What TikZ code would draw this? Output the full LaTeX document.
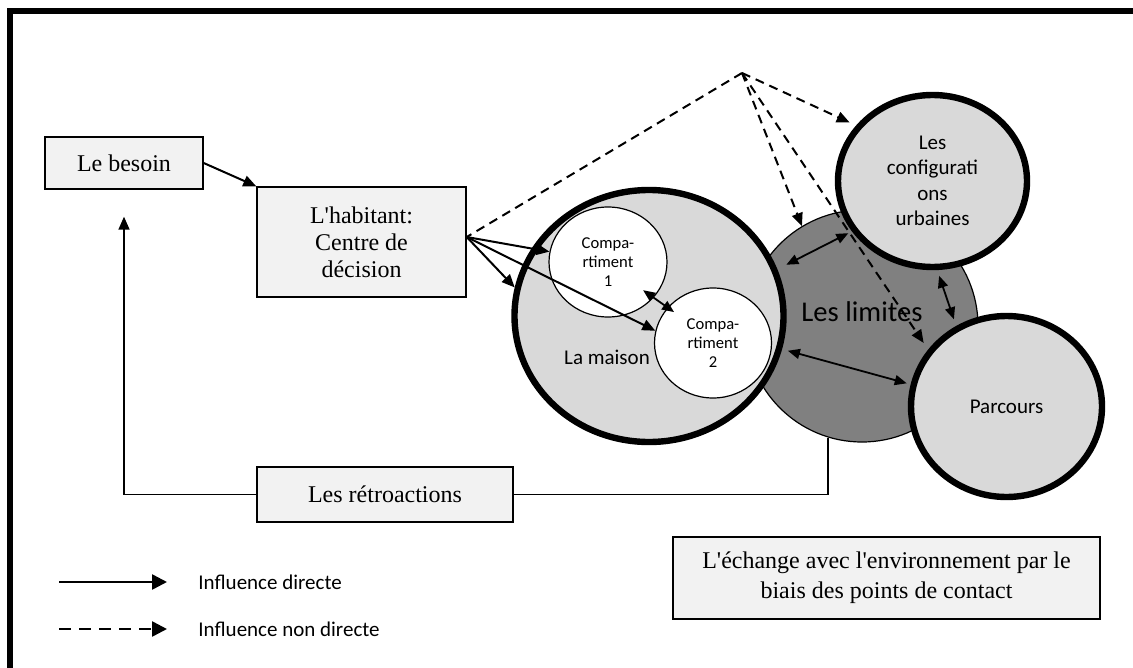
\documentclass[tikz,border=0pt]{standalone}
\usepackage{fontspec}
\setmainfont{Liberation Serif}
\newfontfamily\calibri{Carlito}
\usepackage{tikz}
\usetikzlibrary{arrows.meta, calc, positioning, shapes.geometric}
\definecolor{boxgris}{HTML}{F2F2F2}
\definecolor{clair}{HTML}{D9D9D9}
\definecolor{fonce}{HTML}{808080}

\begin{document}
\begin{tikzpicture}[x=0.5pt, y=-0.5pt,
  box/.style={draw, line width=0.7pt, fill=boxgris, align=center, inner sep=0pt,
              font=\fontsize{12}{13.6}\selectfont},
  zone/.style={draw, ellipse, line width=3.2pt, fill=clair, inner sep=0pt, align=center,
              font=\calibri\fontsize{10.5}{12.7}\selectfont},
  compart/.style={draw, ellipse, line width=0.6pt, fill=white, inner sep=0pt, align=center,
              font=\calibri\fontsize{8.3}{9.5}\selectfont},
  label/.style={font=\calibri\fontsize{10.5}{12.7}\selectfont, inner sep=0pt},
  arrow/.style={-{Triangle[length=6.5pt, width=5.5pt]}, line width=1pt},
  darrow/.style={{Triangle[length=6pt, width=5pt]}-{Triangle[length=6pt, width=5pt]}, line width=0.9pt},
  indirect/.style={arrow, dash pattern=on 4.5pt off 3pt},
  legarrow/.style={-{Triangle[length=7.5pt, width=7.5pt]}, line width=1.3pt},
]

\useasboundingbox (0,0) rectangle (1133,668);

% Cadre
\draw[line width=2.8pt] (10,668) -- (10,11) -- (1133,11);

% Boites
\node[box, minimum width=79pt, minimum height=26pt] (besoin) at (124,163) {Le besoin};
\node[box, minimum width=104.5pt, minimum height=55pt] (habitant) at (361.5,242)
  {L\textquotesingle habitant:\\Centre de\\décision};
\node[box, minimum width=128pt, minimum height=27.5pt] (retro) at (385,494.5) {Les rétroactions};
\node[box, minimum width=213.5pt, minimum height=41pt, font=\fontsize{12}{15}\selectfont] (echange) at (886.5,578)
  {L\textquotesingle échange avec l\textquotesingle environnement par le\\biais des points de contact};

% Cercles
\node[draw, circle, fill=fonce, line width=0.6pt, minimum size=116pt, inner sep=0pt] (limites) at (862,326) {};
\node[zone, minimum width=134.5pt, minimum height=126pt] (maison) at (649,316) {};
\node[compart, minimum width=59pt, minimum height=55pt] (comp1) at (608,262) {Compa-\\rtiment\\1};
\node[compart, minimum width=58.5pt, minimum height=55pt] (comp2) at (713,343) {Compa-\\rtiment\\2};
\node[zone, minimum width=94.5pt, minimum height=86pt] (config) at (932.5,181)
  {Les\\configurati\\ons\\urbaines};
\node[zone, minimum width=95.5pt, minimum height=90.5pt] (parcours) at (1006.5,406.5) {Parcours};

\node[label] (maisonlab) at (607,357) {La maison};
\node[label, font=\calibri\fontsize{14.3}{16}\selectfont] (limlab) at (862,312) {Les limites};

% Influence directe
\draw[arrow] (besoin.east) -- (habitant.north west);
\draw[arrow] ([yshift=2.5pt]habitant.east) -- (comp1.170);
\draw[arrow] ([yshift=2.5pt]habitant.east) -- (maison.168);
\draw[arrow] ([yshift=2.5pt]habitant.east) -- (comp2.168);
\draw[darrow, shorten <=-6.5pt, shorten >=-4pt] (comp1.322) -- (comp2.142);
\draw[darrow, shorten <=5pt, shorten >=2pt] (maison.20) -- (config.212);
\draw[darrow, shorten <=3pt, shorten >=3.5pt] (config.273) -- (parcours.122);
\draw[darrow, shorten <=3pt, shorten >=2pt] (maison.346) -- (parcours.167);

% Influence non directe
\coordinate (apex) at (742,73);
\draw[line width=1pt, dash pattern=on 4.5pt off 3pt] (apex) -- ([yshift=2.5pt]habitant.east);
\draw[indirect] (apex) -- (limites.121);
\draw[indirect, shorten >=3.5pt] (apex) -- (config.144);
\draw[indirect, shorten >=4pt] (apex) -- (parcours.144);

% Retroactions
\draw[line width=0.7pt] (limites.253) |- (retro.east);
\draw[arrow, line width=0.8pt] (retro.west) -| ([yshift=-13.5pt]besoin.south);

% Legende
\node[label, anchor=west] (ldirect) at (198,582) {Influence directe};
\node[label, anchor=west] (lindirect) at (198,629) {Influence non directe};
\draw[legarrow] ([xshift=-69.5pt]ldirect.west) -- ([xshift=-15.5pt]ldirect.west);
\draw[legarrow, dash pattern=on 6pt off 4pt] ([xshift=-69.5pt]lindirect.west) -- ([xshift=-15.5pt]lindirect.west);

\end{tikzpicture}
\end{document}
